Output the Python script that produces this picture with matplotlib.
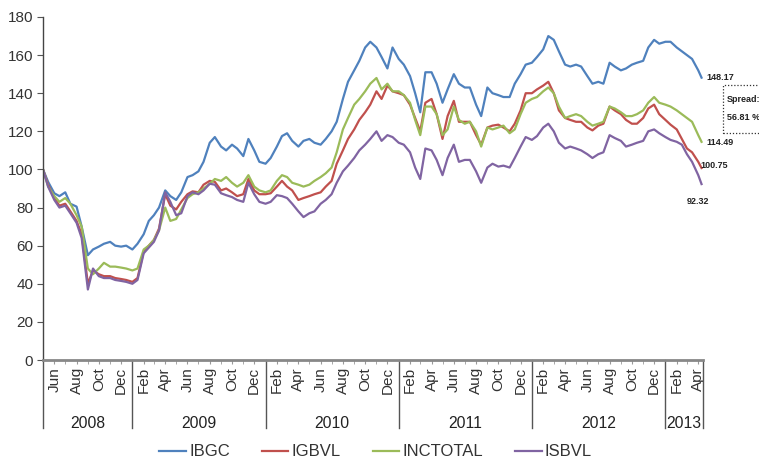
import matplotlib
matplotlib.use("Agg")
import matplotlib.pyplot as plt
import matplotlib.dates as mdates
from matplotlib.patches import Rectangle
import pandas as pd

plt.rcParams['font.family'] = ['Liberation Sans', 'DejaVu Sans']

# Semi-monthly observation dates (1st and 15th), last point 10 Apr 2013
dates = list(pd.date_range('2008-05-01', '2013-04-01', freq='SMS')) + [pd.Timestamp('2013-04-10')]

ibgc = [
    100, 93.5, 87.5, 86, 88, 82, 80.5, 70, 55, 58,
    59.5, 61, 62, 60, 59.5, 60, 58, 61, 66, 73,
    76, 80, 89, 86, 84, 88, 96, 97, 99, 104,
    114, 117, 112, 110, 113, 111, 107, 116, 110, 104,
    103, 106, 112, 117.5, 119, 115, 112, 115, 116, 114,
    113, 116, 120, 125, 137, 146, 152, 157, 164, 167,
    164, 159, 153, 164, 158, 155, 149, 140, 130, 151,
    151, 145, 135, 142, 150, 145, 143, 143, 134, 128,
    143, 140, 139, 138, 138, 145, 150, 155, 156, 159,
    163, 170, 168, 162, 155, 154, 155, 154, 149, 145,
    146, 145, 156, 154, 152, 153, 155, 156, 157, 164,
    168, 166, 167, 167, 164, 162, 160, 158, 152, 148.17]

igbvl = [
    100, 92, 85, 81, 82, 78, 73, 66, 40, 47,
    45, 44, 44, 43, 42.5, 42, 41, 43, 57, 60,
    63, 69, 87, 81, 79, 83, 87, 88.5, 88, 92,
    94, 93.5, 89, 90, 88, 86, 87, 95, 89, 87,
    87, 87.5, 91, 94, 91, 89, 84, 85, 86, 87,
    88, 91, 94, 103, 110, 116, 121, 126, 130, 134,
    141, 137, 144, 141, 140, 139, 134, 127, 120, 135,
    137, 129, 116, 128, 136, 125, 125, 125, 118, 113,
    122, 123, 123.5, 122, 120, 124, 131, 140, 140, 142,
    144, 146, 140, 131, 127, 126, 125, 125, 122, 120.5,
    123, 124, 133, 131, 129, 126, 124, 124, 127, 132,
    134, 129, 126, 123.5, 121, 116, 111, 109, 104, 100.75]

inctotal = [
    100, 91, 86, 83, 85, 82, 76, 70, 48, 45,
    48, 51, 49, 49, 48.5, 48, 47, 48, 58, 60,
    63, 68, 80, 73, 74, 79, 85, 87, 88, 90,
    92.5, 95, 94, 96, 93, 91, 93, 97, 91, 89,
    88, 89, 94, 97, 96, 93, 92, 91, 92, 94,
    96, 98, 101, 109, 121, 127, 134, 137, 141, 145,
    148, 142, 145, 141, 141, 139, 135, 126, 118, 133,
    133, 129, 118, 121, 133, 126, 124, 125, 120, 112,
    122, 121, 122, 123, 119, 121, 129, 135, 137, 138,
    141, 143, 140, 133, 127, 128, 129, 128, 125, 123,
    124, 125, 133, 132, 130, 128, 128, 129, 131, 135,
    138, 135, 134, 133, 131, 129, 127, 125, 118, 114.49]

isbvl = [
    100, 91, 84, 80, 81, 77, 72, 64, 37, 48,
    44, 43, 43, 42, 41.5, 41, 40, 42, 56, 59,
    62, 68, 88, 83, 76, 77, 86, 88, 87, 89,
    92.5, 92, 87.5, 86.5, 85.5, 84, 83, 93, 87, 83,
    82, 83, 86.5, 86, 85, 82, 78, 75, 77, 78,
    82, 84, 87, 93, 99, 102, 106, 110, 113, 116,
    120, 115, 118, 117, 114, 113, 109, 101, 95, 111,
    110, 105, 97, 106, 113, 104, 105, 105, 99, 93,
    101, 103, 101.5, 102, 101, 106, 112, 117, 115.5, 117.5,
    122, 124, 120, 114, 111, 112, 111, 110, 108, 106,
    108, 109, 118, 116.5, 115, 112, 113, 114, 115, 120,
    121, 119, 117, 115.5, 114.5, 113, 108, 104, 97, 92.32]

series_names = ['IBGC', 'IGBVL', 'INCTOTAL', 'ISBVL']
series_vals = [ibgc, igbvl, inctotal, isbvl]
colors = ['#4F81BD', '#C0504D', '#9BBB59', '#8064A2']
end_offsets = [(5, 0), (-1, 3), (5, -1), (-15, -17)]  # pixel offsets for end labels

years = ['2008', '2009', '2010', '2011', '2012', '2013']
year_starts = ['2008-05-01', '2009-01-01', '2010-01-01', '2011-01-01', '2012-01-01', '2013-01-01']
x_end = '2013-04-14'
spread_text = ['Spread:', '56.81 %']

W, H = 759, 463
fig = plt.figure(figsize=(W / 100, H / 100), dpi=100)
ax = fig.add_axes([43 / W, 1 - 360 / H, (703 - 43) / W, 343 / H])

for name, vals, c in zip(series_names, series_vals, colors):
    ax.plot(dates, vals, color=c, lw=1.6, label=name, solid_joinstyle='round')

for vals, off in zip(series_vals, end_offsets):
    ax.annotate(f"{vals[-1]:.2f}", xy=(dates[-1], vals[-1]), xytext=off,
                textcoords='offset pixels', ha='left', va='center',
                fontsize=6.5, fontweight='bold', color='#222222')

ax.set_ylim(0, 180)
ax.set_yticks(range(0, 181, 20))
ax.set_xlim(pd.Timestamp(year_starts[0]), pd.Timestamp(x_end))

tick_dates = pd.date_range('2008-06-01', '2013-04-01', freq='2MS')
ax.set_xticks(tick_dates)
ax.set_xticklabels([d.strftime('%b') for d in tick_dates], rotation=90, fontsize=11,
                   color='#333333', va='top', ha='center')
ax.xaxis.set_minor_locator(mdates.MonthLocator())
ax.tick_params(axis='x', which='both', length=3, direction='out', color='#999999', pad=2)
ax.tick_params(axis='y', length=4, direction='out', labelsize=11, labelcolor='#333333',
               color='#555555', pad=3)

for s in ['top', 'right']:
    ax.spines[s].set_visible(False)
ax.spines['bottom'].set_color('#888888')
ax.spines['bottom'].set_linewidth(2)
ax.spines['left'].set_color('#444444')
ax.spines['left'].set_linewidth(1)

# year separators and labels
trans = ax.get_xaxis_transform()
bounds = [pd.Timestamp(d) for d in year_starts] + [pd.Timestamp(x_end)]
for b in bounds:
    ax.plot([b, b], [0, -68 / 343], transform=trans, color='#555555', lw=1, clip_on=False)
for i, y in enumerate(years):
    mid = bounds[i] + (bounds[i + 1] - bounds[i]) / 2
    ax.text(mid, -63 / 343, y, transform=trans, ha='center', va='center',
            fontsize=11.3, color='#222222')

# spread box
fig.patches.append(Rectangle((723 / W, 1 - 133 / H), 50 / W, 48 / H, transform=fig.transFigure,
                             fill=False, ls=(0, (1, 1.5)), lw=0.9, edgecolor='#333333'))
fig.text(727 / W, 1 - 100 / H, spread_text[0], fontsize=6.5, fontweight='bold',
         va='center', ha='left', color='#222222')
fig.text(727 / W, 1 - 118 / H, spread_text[1], fontsize=6.5, fontweight='bold',
         va='center', ha='left', color='#222222')

fig.legend(loc='center', bbox_to_anchor=(0.495, 1 - 452 / H), ncol=4, frameon=False,
           fontsize=12, handlelength=1.6, handletextpad=0.2, columnspacing=1.9,
           labelcolor='#333333')

fig.savefig('out.png', dpi=100)
